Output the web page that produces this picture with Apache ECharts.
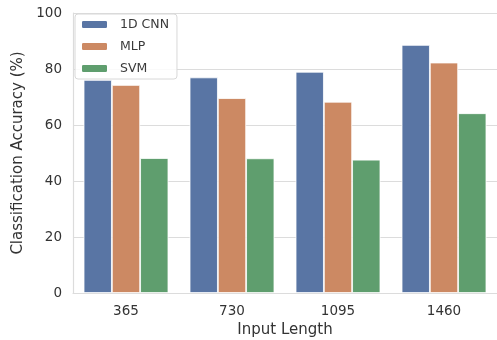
<!DOCTYPE html>
<html>
<head>
<meta charset="utf-8">
<script src="https://cdn.jsdelivr.net/npm/echarts@6/dist/echarts.min.js"></script>
<style>
  html, body { margin: 0; padding: 0; background: #fff; }
  #chart { width: 497px; height: 340px; }
</style>
</head>
<body>
<div id="chart"></div>
<script>
// input lengths on the x axis
const categories = ['365', '730', '1095', '1460'];
// accuracy per model (%)
const cnn = [76.1, 77.0, 79.0, 88.6];
const mlp = [74.3, 69.6, 68.3, 82.3];
const svm = [48.2, 48.1, 47.6, 64.2];
const yTicks = [0, 20, 40, 60, 80, 100];

const textColor = '#333333';
const gridColor = '#dcdcdc';

function bar(name, data, color) {
  return {
    name: name,
    type: 'bar',
    data: data,
    barGap: '0%',
    barCategoryGap: '20%',
    itemStyle: { color: color, borderColor: '#ffffff', borderWidth: 0.8 }
  };
}

const chart = echarts.init(document.getElementById('chart'));
chart.setOption({
  animation: false,
  textStyle: { fontFamily: 'DejaVu Sans' },
  grid: { left: 73, right: 0, top: 13, bottom: 47, outerBoundsMode: 'none', containLabel: false },
  legend: {
    left: 75, top: 14,
    orient: 'vertical',
    itemWidth: 27, itemHeight: 9, itemGap: 9,
    padding: [4, 8, 4, 5],
    backgroundColor: 'rgba(255,255,255,0.85)',
    borderColor: '#d8d8d8', borderWidth: 1, borderRadius: 3,
    textStyle: { color: '#3a3a3a', fontSize: 12.5, fontFamily: 'DejaVu Sans', padding: [0, 0, 0, 7] },
    data: ['1D CNN', 'MLP', 'SVM']
  },
  xAxis: {
    type: 'category',
    data: categories,
    name: 'Input Length',
    nameLocation: 'middle',
    nameGap: 26,
    nameTextStyle: { color: textColor, fontSize: 15 },
    axisLine: { show: true, lineStyle: { color: gridColor, width: 1.2 } },
    axisTick: { show: false },
    axisLabel: { color: textColor, fontSize: 13.5, margin: 11 },
    splitLine: { show: false }
  },
  yAxis: {
    type: 'value',
    min: yTicks[0], max: yTicks[yTicks.length - 1], interval: 20,
    name: 'Classification Accuracy (%)',
    nameLocation: 'middle',
    nameGap: 45,
    nameTextStyle: { color: textColor, fontSize: 15 },
    axisLine: { show: true, lineStyle: { color: gridColor, width: 1.2 } },
    axisTick: { show: false },
    axisLabel: { color: textColor, fontSize: 13.5, margin: 11 },
    splitLine: { show: true, lineStyle: { color: gridColor, width: 1 } }
  },
  series: [
    bar('1D CNN', cnn, '#5975a4'),
    bar('MLP', mlp, '#cc8963'),
    bar('SVM', svm, '#5f9e6e')
  ]
});
</script>
</body>
</html>
